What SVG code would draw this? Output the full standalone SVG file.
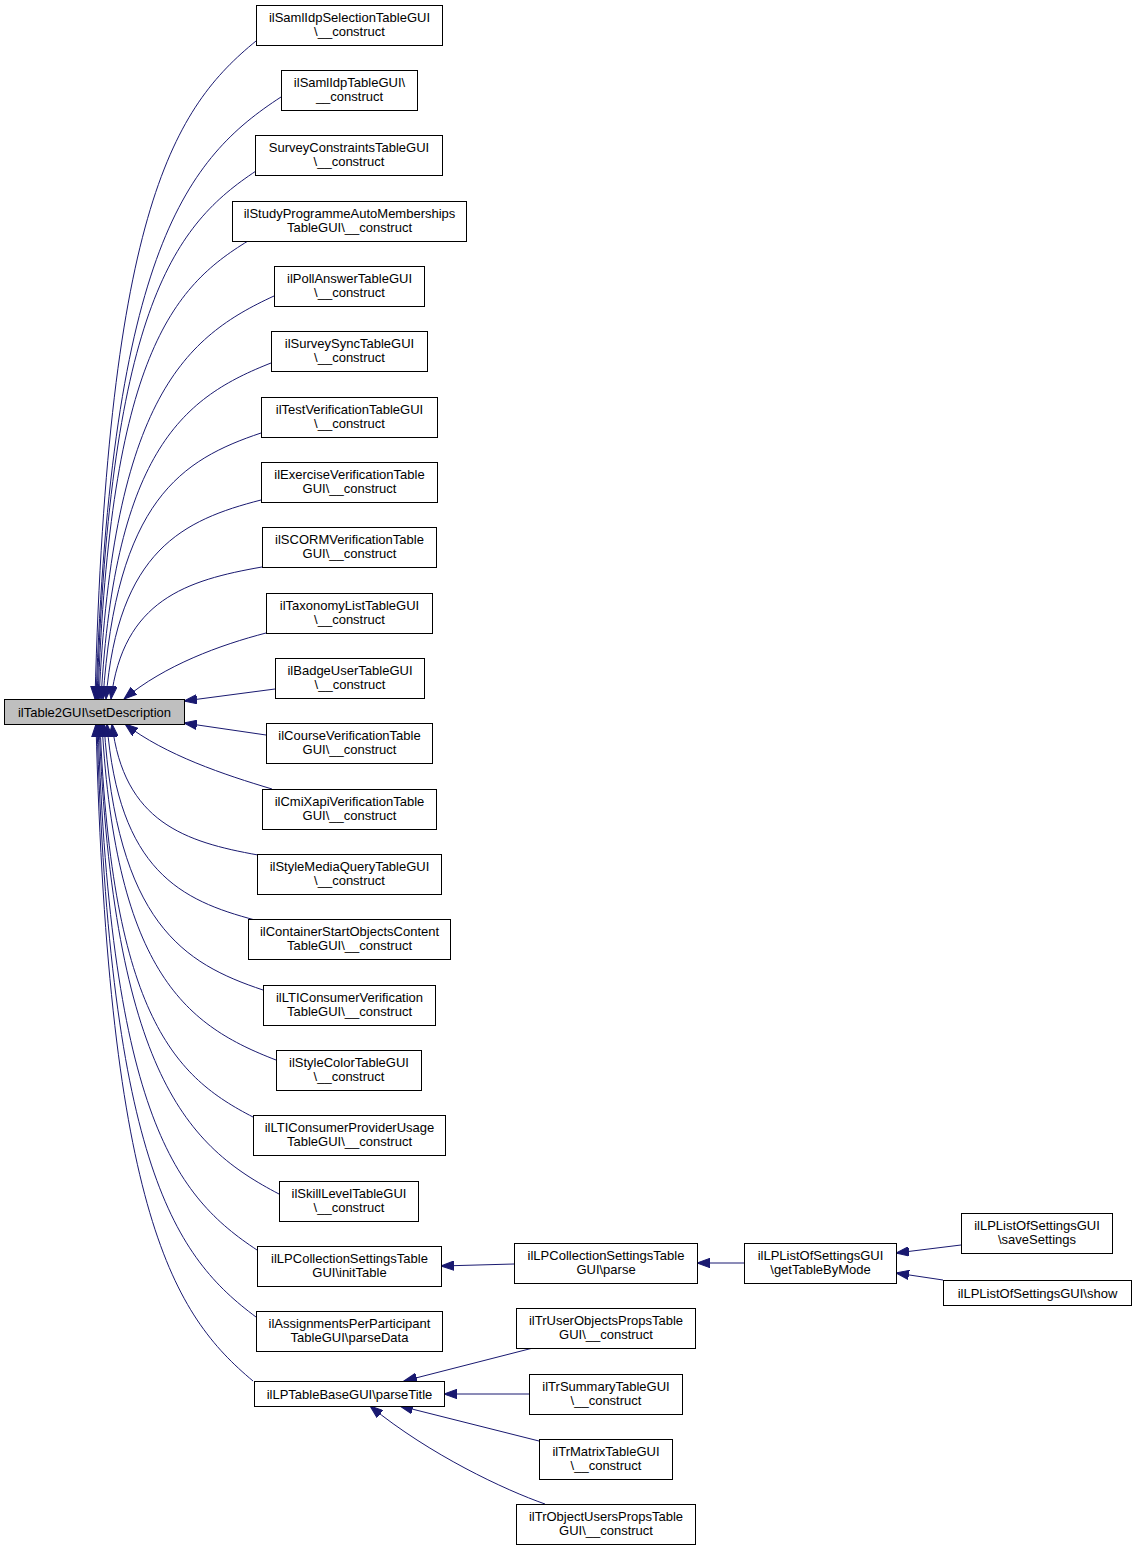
<svg xmlns="http://www.w3.org/2000/svg" width="1136" height="1551" viewBox="0 0 1136 1551">
<style>
.n rect{fill:#fff;stroke:#000;stroke-width:1}
.root rect{fill:#bfbfbf;stroke:#000;stroke-width:1}
text{font-family:"Liberation Sans",Arial,Helvetica,sans-serif;font-size:13px;fill:#000;text-anchor:middle}
.e path{fill:none;stroke:#191970;stroke-width:1;marker-end:url(#ah)}
</style>
<defs>
<marker id="ah" markerWidth="14" markerHeight="10" refX="13" refY="5" orient="auto" markerUnits="userSpaceOnUse">
<path d="M0,0.3 L13,5 L0,9.7 Z" fill="#191970" stroke="#191970" stroke-width="1"/>
</marker>
</defs>
<rect width="1136" height="1551" fill="#fff"/>
<g class="e" id="edges">
<path d="M256,41 C175.5,106.8 108,205.5 95,699"/>
<path d="M281,97 C188.5,157.2 111,247.5 96,699"/>
<path d="M256,171 C176.5,223.8 110,303 97,699"/>
<path d="M248,241 C173,286.8 110,355.5 98,699"/>
<path d="M274,296 C186.5,336.3 113,396.8 99,699"/>
<path d="M271,363 C186,396.6 115,447 101,699"/>
<path d="M261,433 C182,459.6 116,499.5 103,699"/>
<path d="M261,500 C183.5,519.9 118,550 106,699"/>
<path d="M262,567 C186.5,580.2 123,600 111,699"/>
<path d="M266,633 C220,645 165,665 124,699"/>
<path d="M275,689 L184,701"/>
<path d="M266,735 L184,723"/>
<path d="M272,789 C225,775 165,755 125,724"/>
<path d="M258,855 C185,841.9 123.7,822.3 112,724"/>
<path d="M255,920 C181,900.4 118.8,871 107,724"/>
<path d="M263,990 C183.5,963.4 116.7,923.5 104,724"/>
<path d="M276,1060 C189,1026.4 116,976 102,724"/>
<path d="M253,1117 C176.5,1077.7 112,1018.8 100,724"/>
<path d="M279,1194 C189,1147 113.4,1076.5 99,724"/>
<path d="M257,1250 C177.5,1197.4 110.7,1118.5 98,724"/>
<path d="M256,1317 C176.5,1257.7 109.7,1168.8 97,724"/>
<path d="M253,1381 C174.5,1315.3 108.6,1216.8 96,724"/>
<path d="M514,1264 L441,1266"/>
<path d="M744,1263 L697,1263"/>
<path d="M961,1245 L896,1253"/>
<path d="M943,1280 L896,1273"/>
<path d="M533,1348 L404,1381"/>
<path d="M529,1394 L444,1394"/>
<path d="M539,1441 L400,1406"/>
<path d="M545,1504 C505,1490 430,1455 370,1406"/>
</g>
<g class="root" id="root"><rect x="4.5" y="699.5" width="180" height="25"/><text x="94.5" y="716.5">ilTable2GUI\setDescription</text></g>
<g class="n" id="n0"><rect x="256.5" y="5.5" width="186" height="40"/><text x="349.5" y="22">ilSamlIdpSelectionTableGUI</text><text x="349.5" y="36">\__construct</text></g>
<g class="n" id="n1"><rect x="281.5" y="70.5" width="136" height="40"/><text x="349.5" y="87">ilSamlIdpTableGUI\</text><text x="349.5" y="101">__construct</text></g>
<g class="n" id="n2"><rect x="255.5" y="135.5" width="187" height="40"/><text x="349" y="152">SurveyConstraintsTableGUI</text><text x="349" y="166">\__construct</text></g>
<g class="n" id="n3"><rect x="232.5" y="201.5" width="234" height="40"/><text x="349.5" y="218">ilStudyProgrammeAutoMemberships</text><text x="349.5" y="232">TableGUI\__construct</text></g>
<g class="n" id="n4"><rect x="274.5" y="266.5" width="150" height="40"/><text x="349.5" y="283">ilPollAnswerTableGUI</text><text x="349.5" y="297">\__construct</text></g>
<g class="n" id="n5"><rect x="271.5" y="331.5" width="156" height="40"/><text x="349.5" y="348">ilSurveySyncTableGUI</text><text x="349.5" y="362">\__construct</text></g>
<g class="n" id="n6"><rect x="261.5" y="397.5" width="176" height="40"/><text x="349.5" y="414">ilTestVerificationTableGUI</text><text x="349.5" y="428">\__construct</text></g>
<g class="n" id="n7"><rect x="261.5" y="462.5" width="176" height="40"/><text x="349.5" y="479">ilExerciseVerificationTable</text><text x="349.5" y="493">GUI\__construct</text></g>
<g class="n" id="n8"><rect x="262.5" y="527.5" width="174" height="40"/><text x="349.5" y="544">ilSCORMVerificationTable</text><text x="349.5" y="558">GUI\__construct</text></g>
<g class="n" id="n9"><rect x="266.5" y="593.5" width="166" height="40"/><text x="349.5" y="610">ilTaxonomyListTableGUI</text><text x="349.5" y="624">\__construct</text></g>
<g class="n" id="n10"><rect x="275.5" y="658.5" width="149" height="40"/><text x="350" y="675">ilBadgeUserTableGUI</text><text x="350" y="689">\__construct</text></g>
<g class="n" id="n11"><rect x="266.5" y="723.5" width="166" height="40"/><text x="349.5" y="740">ilCourseVerificationTable</text><text x="349.5" y="754">GUI\__construct</text></g>
<g class="n" id="n12"><rect x="262.5" y="789.5" width="174" height="40"/><text x="349.5" y="806">ilCmiXapiVerificationTable</text><text x="349.5" y="820">GUI\__construct</text></g>
<g class="n" id="n13"><rect x="257.5" y="854.5" width="184" height="40"/><text x="349.5" y="871">ilStyleMediaQueryTableGUI</text><text x="349.5" y="885">\__construct</text></g>
<g class="n" id="n14"><rect x="248.5" y="919.5" width="202" height="40"/><text x="349.5" y="936">ilContainerStartObjectsContent</text><text x="349.5" y="950">TableGUI\__construct</text></g>
<g class="n" id="n15"><rect x="263.5" y="985.5" width="172" height="40"/><text x="349.5" y="1002">ilLTIConsumerVerification</text><text x="349.5" y="1016">TableGUI\__construct</text></g>
<g class="n" id="n16"><rect x="276.5" y="1050.5" width="145" height="40"/><text x="349" y="1067">ilStyleColorTableGUI</text><text x="349" y="1081">\__construct</text></g>
<g class="n" id="n17"><rect x="253.5" y="1115.5" width="192" height="40"/><text x="349.5" y="1132">ilLTIConsumerProviderUsage</text><text x="349.5" y="1146">TableGUI\__construct</text></g>
<g class="n" id="n18"><rect x="279.5" y="1181.5" width="139" height="40"/><text x="349" y="1198">ilSkillLevelTableGUI</text><text x="349" y="1212">\__construct</text></g>
<g class="n" id="n19"><rect x="257.5" y="1246.5" width="184" height="40"/><text x="349.5" y="1263">ilLPCollectionSettingsTable</text><text x="349.5" y="1277">GUI\initTable</text></g>
<g class="n" id="n20"><rect x="256.5" y="1311.5" width="186" height="40"/><text x="349.5" y="1328">ilAssignmentsPerParticipant</text><text x="349.5" y="1342">TableGUI\parseData</text></g>
<g class="n" id="n21"><rect x="254.5" y="1381.5" width="190" height="25"/><text x="349.5" y="1398.5">ilLPTableBaseGUI\parseTitle</text></g>
<g class="n" id="n22"><rect x="514.5" y="1243.5" width="183" height="40"/><text x="606" y="1260">ilLPCollectionSettingsTable</text><text x="606" y="1274">GUI\parse</text></g>
<g class="n" id="n23"><rect x="516.5" y="1308.5" width="179" height="40"/><text x="606" y="1325">ilTrUserObjectsPropsTable</text><text x="606" y="1339">GUI\__construct</text></g>
<g class="n" id="n24"><rect x="529.5" y="1374.5" width="153" height="40"/><text x="606" y="1391">ilTrSummaryTableGUI</text><text x="606" y="1405">\__construct</text></g>
<g class="n" id="n25"><rect x="539.5" y="1439.5" width="133" height="40"/><text x="606" y="1456">ilTrMatrixTableGUI</text><text x="606" y="1470">\__construct</text></g>
<g class="n" id="n26"><rect x="516.5" y="1504.5" width="179" height="40"/><text x="606" y="1521">ilTrObjectUsersPropsTable</text><text x="606" y="1535">GUI\__construct</text></g>
<g class="n" id="n27"><rect x="744.5" y="1243.5" width="152" height="40"/><text x="820.5" y="1260">ilLPListOfSettingsGUI</text><text x="820.5" y="1274">\getTableByMode</text></g>
<g class="n" id="n28"><rect x="961.5" y="1213.5" width="151" height="40"/><text x="1037" y="1230">ilLPListOfSettingsGUI</text><text x="1037" y="1244">\saveSettings</text></g>
<g class="n" id="n29"><rect x="943.5" y="1280.5" width="188" height="25"/><text x="1037.5" y="1297.5">ilLPListOfSettingsGUI\show</text></g>
</svg>
